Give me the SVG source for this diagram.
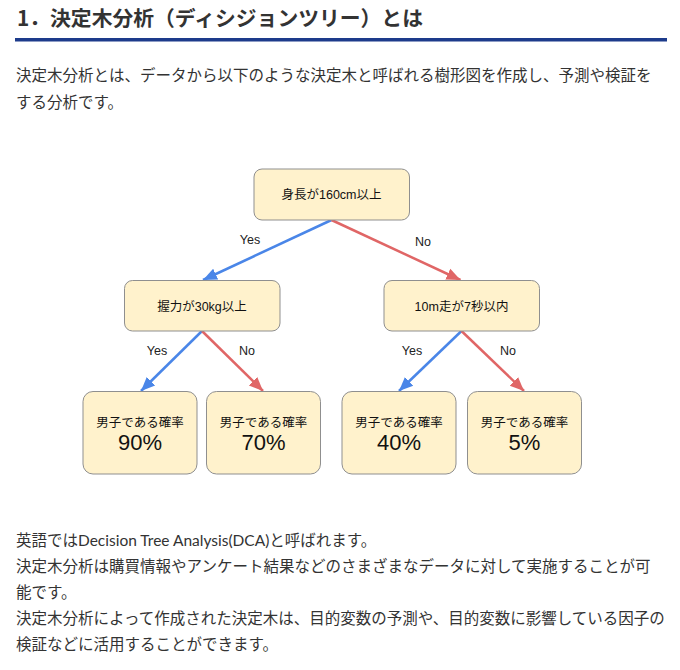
<svg xmlns="http://www.w3.org/2000/svg" width="680" height="670" viewBox="0 0 680 670">
<style>
.title{font-family:"Noto Sans CJK JP","Noto Sans",sans-serif;font-weight:bold;font-size:20.8px;fill:#333}
.body{font-family:"Lato","Noto Sans CJK JP",sans-serif;font-size:15.5px;fill:#333}
.node rect{fill:#fff2cc;stroke:#8f8f8f;stroke-width:1}
.lbl{font-family:"Liberation Sans","Noto Sans CJK JP",sans-serif;font-size:12.5px;fill:#111;text-anchor:middle}
.pct{font-family:"Liberation Sans",sans-serif;font-size:22px;fill:#111;text-anchor:middle}
.edge{font-family:"Liberation Sans",sans-serif;font-size:12.5px;fill:#222;text-anchor:middle}
.yes{stroke:#4a86e8;stroke-width:2.5;fill:none}
.no{stroke:#e06666;stroke-width:2.5;fill:none}
</style>
<defs>
<marker id="ab" markerUnits="userSpaceOnUse" markerWidth="16" markerHeight="14" refX="14" refY="6" orient="auto" viewBox="0 0 16 12">
<path d="M0,0 L14,6 L0,12 Z" fill="#4a86e8"/>
</marker>
<marker id="ar" markerUnits="userSpaceOnUse" markerWidth="16" markerHeight="14" refX="14" refY="6" orient="auto" viewBox="0 0 16 12">
<path d="M0,0 L14,6 L0,12 Z" fill="#e06666"/>
</marker>
</defs>
<rect width="680" height="670" fill="#fff"/>
<text class="title" x="17" y="25.5">1．決定木分析（ディシジョンツリー）とは</text>
<rect x="15" y="38" width="652" height="3.5" fill="#1d3b8b"/>
<text class="body" x="16" y="81">決定木分析とは、データから以下のような決定木と呼ばれる樹形図を作成し、予測や検証を</text>
<text class="body" x="16" y="108">する分析です。</text>

<g id="connectors">
<line class="yes" x1="331.5" y1="220" x2="203" y2="280" marker-end="url(#ab)"/>
<line class="no" x1="331.5" y1="220" x2="460.5" y2="280" marker-end="url(#ar)"/>
<line class="yes" x1="202" y1="331" x2="141" y2="391" marker-end="url(#ab)"/>
<line class="no" x1="202" y1="331" x2="263" y2="391" marker-end="url(#ar)"/>
<line class="yes" x1="461.5" y1="331" x2="399" y2="391" marker-end="url(#ab)"/>
<line class="no" x1="461.5" y1="331" x2="524" y2="391" marker-end="url(#ar)"/>
<text class="edge" x="250" y="244">Yes</text>
<text class="edge" x="423" y="246">No</text>
<text class="edge" x="157" y="355">Yes</text>
<text class="edge" x="247" y="355">No</text>
<text class="edge" x="412" y="355">Yes</text>
<text class="edge" x="508" y="355">No</text>
</g>

<g id="root" class="node">
<rect x="254" y="169" width="155.5" height="51" rx="8"/>
<text class="lbl" x="331.5" y="199">身長が160cm以上</text>
</g>
<g id="grip" class="node">
<rect x="124.5" y="280.5" width="155.5" height="50.5" rx="8"/>
<text class="lbl" x="202" y="310.5">握力が30kg以上</text>
</g>
<g id="run" class="node">
<rect x="384" y="280.5" width="155.5" height="50.5" rx="8"/>
<text class="lbl" x="461.5" y="310.5">10m走が7秒以内</text>
</g>
<g id="leaf90" class="node">
<rect x="83" y="391.5" width="114" height="82.5" rx="10"/>
<text class="lbl" x="140" y="426.5">男子である確率</text>
<text class="pct" x="140" y="449.5">90%</text>
</g>
<g id="leaf70" class="node">
<rect x="206.5" y="391.5" width="114" height="82.5" rx="10"/>
<text class="lbl" x="263.5" y="426.5">男子である確率</text>
<text class="pct" x="263.5" y="449.5">70%</text>
</g>
<g id="leaf40" class="node">
<rect x="342" y="391.5" width="114" height="82.5" rx="10"/>
<text class="lbl" x="399" y="426.5">男子である確率</text>
<text class="pct" x="399" y="449.5">40%</text>
</g>
<g id="leaf5" class="node">
<rect x="467.5" y="391.5" width="114" height="82.5" rx="10"/>
<text class="lbl" x="524.5" y="426.5">男子である確率</text>
<text class="pct" x="524.5" y="449.5">5%</text>
</g>

<text class="body" x="16" y="546">英語ではDecision Tree Analysis(DCA)と呼ばれます。</text>
<text class="body" x="16" y="572">決定木分析は購買情報やアンケート結果などのさまざまなデータに対して実施することが可</text>
<text class="body" x="16" y="598">能です。</text>
<text class="body" x="16" y="624">決定木分析によって作成された決定木は、目的変数の予測や、目的変数に影響している因子の</text>
<text class="body" x="16" y="650">検証などに活用することができます。</text>
</svg>
